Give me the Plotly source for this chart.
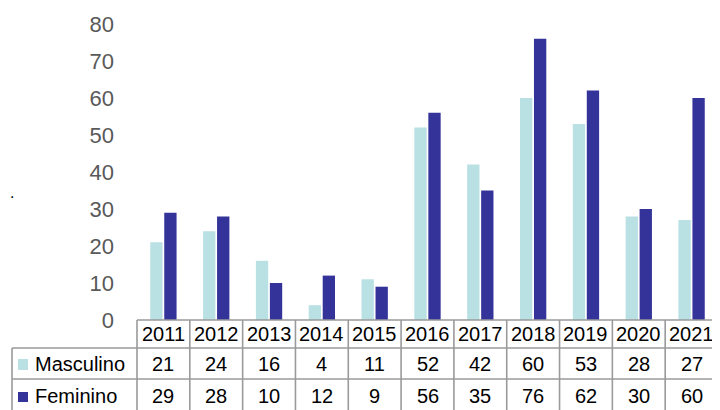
import plotly.graph_objects as go

years = ["2011", "2012", "2013", "2014", "2015", "2016", "2017", "2018", "2019", "2020", "2021"]
masculino = [21, 24, 16, 4, 11, 52, 42, 60, 53, 28, 27]
feminino = [29, 28, 10, 12, 9, 56, 35, 76, 62, 30, 60]
series_names = ["Masculino", "Feminino"]
colors = ["#b9e0e3", "#333399"]

# page body has an 8px margin; layout pixel targets below are page coordinates
O = 8
W, H = 720 - O, 410 - O
L = 137 - O
T = 24 - O
B = H - (320 - O)
R = W - (718 - O)
plot_h = H - T - B
plot_w = W - L - R

def py(ypix):
    return ((320 - O) - (ypix - O)) / plot_h

def px(xpix):
    return ((xpix - O) - L) / plot_w

fig = go.Figure()
for name, vals, col in zip(series_names, [masculino, feminino], colors):
    fig.add_trace(go.Bar(x=years, y=vals, name=name, marker_color=col,
                         marker_line_width=0))

font_family = "Liberation Sans, Arial, sans-serif"
line_col = "#9a9a9a"
lw = 1.6
n = len(years)

shapes = []
for k in range(n + 1):
    shapes.append(dict(type="line", xref="paper", yref="paper",
                       x0=k / n, x1=k / n, y0=py(320), y1=py(412),
                       line=dict(color=line_col, width=lw)))
shapes.append(dict(type="line", xref="paper", yref="paper",
                   x0=px(12), x1=px(12), y0=py(348), y1=py(412),
                   line=dict(color=line_col, width=lw)))
shapes.append(dict(type="line", xref="paper", yref="paper",
                   x0=0, x1=1, y0=py(320), y1=py(320),
                   line=dict(color=line_col, width=lw)))
for yy in [348, 379]:
    shapes.append(dict(type="line", xref="paper", yref="paper",
                       x0=px(12), x1=1, y0=py(yy), y1=py(yy),
                       line=dict(color=line_col, width=lw)))
key_rows = [(359, 370), (392, 402)]
for (y0, y1), col in zip(key_rows, colors):
    shapes.append(dict(type="rect", xref="paper", yref="paper",
                       x0=px(18), x1=px(28), y0=py(y1), y1=py(y0),
                       fillcolor=col, line=dict(width=0)))

annotations = []
tfont = dict(family=font_family, size=20, color="#000000")
for i, yr in enumerate(years):
    annotations.append(dict(x=(i + 0.5) / n, xref="paper", y=py(334), yref="paper", text=yr,
                            showarrow=False, font=tfont, xanchor="center", yanchor="middle"))
row_centers = [364, 396]
for rc, name, vals in zip(row_centers, series_names, [masculino, feminino]):
    annotations.append(dict(x=px(33), xref="paper", y=py(rc), yref="paper", text=name,
                            showarrow=False, font=tfont, xanchor="left", yanchor="middle"))
    for i, v in enumerate(vals):
        annotations.append(dict(x=(i + 0.5) / n, xref="paper", y=py(rc), yref="paper", text=str(v),
                                showarrow=False, font=tfont, xanchor="center", yanchor="middle"))
annotations.append(dict(x=px(8), xref="paper", y=py(192), yref="paper", text=".",
                        showarrow=False, font=dict(family=font_family, size=16, color="#000"),
                        xanchor="left", yanchor="middle"))

fig.update_layout(
    width=W, height=H,
    margin=dict(l=L, r=R, t=T, b=B, pad=0, autoexpand=False),
    paper_bgcolor="white", plot_bgcolor="white",
    barmode="group", bargap=0.47, bargroupgap=0.12,
    showlegend=False,
    font=dict(family=font_family),
    xaxis=dict(type="category", showticklabels=False, showgrid=False, zeroline=False,
               showline=False, ticks="", range=[-0.5, n - 0.5]),
    yaxis=dict(range=[0, 80], dtick=10, showgrid=False, zeroline=False, showline=False,
               ticks="", ticklabelstandoff=22,
               tickfont=dict(family=font_family, size=22, color="#595959")),
    shapes=shapes, annotations=annotations,
)

fig.write_html("out.html")
